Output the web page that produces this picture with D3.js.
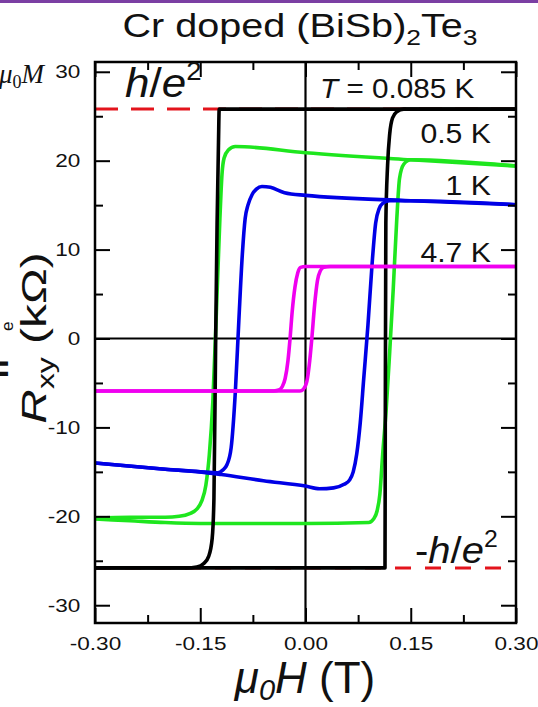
<!DOCTYPE html>
<html>
<head>
<meta charset="utf-8">
<script src="https://cdn.jsdelivr.net/npm/d3@7"></script>
<style>
  body { margin: 0; background: #fff; }
  svg { display: block; font-family: Arial, "Liberation Sans", sans-serif; }
</style>
</head>
<body>
<svg id="chart" width="538" height="707"></svg>
<script>
// axis ticks
const fieldTicks = [-0.30, -0.15, 0.00, 0.15, 0.30];
const fieldMinor = [-0.225, -0.075, 0.075, 0.225];
const rTicks = [-30, -20, -10, 0, 10, 20, 30];
const rMinor = [-25, -15, -5, 5, 15, 25];
const hOverE2 = 25.81; // kOhm

// hysteresis loops, [mu0H (T), Rxy (kOhm)], each branch sorted by field
// T = 0.085 K
const down085 = [[-0.30,-25.8],[-0.20,-25.8],[-0.17,-25.8],[-0.155,-25.7],[-0.145,-25.3],[-0.138,-24.5],[-0.133,-22.5],[-0.1305,-18],[-0.128,0],[-0.126,13],[-0.124,22],[-0.123,25.8],[0.30,25.8]];
const up085 = [[-0.30,-25.8],[0.1133,-25.8],[0.1137,-10],[0.1145,13],[0.117,19.5],[0.12,23],[0.124,24.8],[0.13,25.5],[0.14,25.8],[0.30,25.8]];
// T = 0.5 K
const down05 = [[-0.30,-20.2],[-0.25,-20.1],[-0.20,-20.1],[-0.18,-20.0],[-0.165,-19.7],[-0.155,-19.2],[-0.148,-18.3],[-0.142,-16.5],[-0.137,-13],[-0.132,-7],[-0.127,3],[-0.122,13.5],[-0.119,18.5],[-0.116,20.3],[-0.11,21.2],[-0.10,21.6],[0.00,20.9],[0.15,20.1],[0.30,19.4]];
const up05 = [[-0.30,-20.3],[-0.25,-20.5],[-0.20,-20.7],[-0.15,-20.8],[0.00,-20.8],[0.09,-20.7],[0.097,-20.3],[0.102,-19.4],[0.106,-17.5],[0.11,-13],[0.115,-8],[0.12,-1.5],[0.125,5.5],[0.13,13.3],[0.134,18],[0.14,19.6],[0.15,20.1],[0.30,19.4]];
// T = 1 K
const down1 = [[-0.30,-14.0],[-0.20,-14.7],[-0.15,-15.0],[-0.125,-15.1],[-0.118,-14.8],[-0.112,-14.2],[-0.106,-12.3],[-0.10,-6],[-0.095,2],[-0.09,9.5],[-0.086,13.5],[-0.082,15.0],[-0.076,16.2],[-0.07,16.8],[-0.062,17.1],[-0.05,17.0],[-0.03,16.4],[0.00,16.1],[0.15,15.5],[0.30,15.05]];
const up1 = [[-0.30,-14.0],[-0.20,-14.7],[-0.15,-15.0],[-0.12,-15.3],[-0.06,-16.0],[0.00,-16.6],[0.02,-16.9],[0.04,-16.8],[0.055,-16.4],[0.063,-15.9],[0.068,-15.0],[0.073,-13.0],[0.078,-9.5],[0.083,-4.5],[0.089,1.5],[0.095,8.5],[0.10,13],[0.105,14.6],[0.11,15.2],[0.12,15.5],[0.15,15.5],[0.30,15.05]];
// T = 4.7 K
const down47 = [[-0.30,-5.9],[-0.045,-5.9],[-0.038,-5.8],[-0.033,-5.4],[-0.029,-4.5],[-0.025,-2.5],[-0.022,0],[-0.019,3],[-0.015,5.8],[-0.011,7.4],[-0.007,8.0],[0.00,8.1],[0.30,8.1]];
const up47 = [[-0.30,-5.9],[-0.008,-5.9],[-0.003,-5.7],[0.002,-4.8],[0.006,-2.5],[0.009,0],[0.013,3.8],[0.017,6.5],[0.021,7.6],[0.026,8.0],[0.035,8.1],[0.30,8.1]];

const tempLabels = ["0.5 K", "1 K", "4.7 K"];

const svg = d3.select("#chart");
const W = 538, H = 707;
const plot = { left: 95, right: 516, top: 62, bottom: 623 };

const x = d3.scaleLinear().domain([-0.30, 0.30]).range([plot.left, plot.right]);
const y = d3.scaleLinear().domain([-32, 31.1]).range([plot.bottom, plot.top]);

// purple strip at the top of the slide
svg.append("rect").attr("x", 0).attr("y", 0).attr("width", W).attr("height", 3).attr("fill", "#7b3fa3");

// text helper: horizontal stretch like the original raster
function label(x0, y0, sx, anchor) {
  return svg.append("g")
    .attr("transform", `translate(${x0},${y0}) scale(${sx},1)`)
    .append("text")
    .attr("text-anchor", anchor || "start");
}

// title
const title = label(300, 37, 1.2, "middle").attr("font-size", 33).attr("fill", "#111");
title.append("tspan").text("Cr doped (BiSb)");
title.append("tspan").attr("font-size", 22).attr("dy", 8).text("2");
title.append("tspan").attr("dy", -8).text("Te");
title.append("tspan").attr("font-size", 22).attr("dy", 8).text("3");

// zero lines
svg.append("line").attr("x1", x(0)).attr("x2", x(0)).attr("y1", plot.top).attr("y2", plot.bottom)
  .attr("stroke", "#000").attr("stroke-width", 2.2);
svg.append("line").attr("x1", plot.left).attr("x2", plot.right).attr("y1", y(0)).attr("y2", y(0))
  .attr("stroke", "#000").attr("stroke-width", 2.2);

// quantized resistance lines
[hOverE2, -hOverE2].forEach((v, i) => {
  svg.append("line")
    .attr("x1", plot.left).attr("x2", plot.right)
    .attr("y1", y(v)).attr("y2", y(v))
    .attr("stroke", "#e3141c").attr("stroke-width", 3)
    .attr("stroke-dasharray", i === 0 ? "23,13" : "16,14");
});

// loops
const line = d3.line().x(d => x(d[0])).y(d => y(d[1])).curve(d3.curveMonotoneX);
const loops = [
  { color: "#1ee61e", branches: [down05, up05] },
  { color: "#000000", branches: [down085, up085] },
  { color: "#0000e6", branches: [down1, up1] },
  { color: "#f000f0", branches: [down47, up47] }
];
loops.forEach(l => {
  l.branches.forEach(b => {
    svg.append("path").attr("d", line(b)).attr("fill", "none")
      .attr("stroke", l.color).attr("stroke-width", 3.6)
      .attr("stroke-linejoin", "round");
  });
});

// axes with inward ticks
function axis(gen, tx, ty, vals, size, fmt, pad) {
  const g = svg.append("g").attr("transform", `translate(${tx},${ty})`)
    .call(gen.tickValues(vals).tickSize(-size).tickSizeOuter(0).tickPadding(pad || 3).tickFormat(fmt));
  g.select(".domain").remove();
  g.selectAll(".tick line").attr("stroke", "#000").attr("stroke-width", 2);
  return g;
}
const hyphen = f => v => f(v).replace("−", "-");
const gx = axis(d3.axisBottom(x), 0, plot.bottom, fieldTicks, 15, hyphen(d3.format(".2f")), 14);
axis(d3.axisBottom(x), 0, plot.bottom, fieldMinor, 8, () => "");
axis(d3.axisTop(x), 0, plot.top, fieldTicks, 15, () => "");
axis(d3.axisTop(x), 0, plot.top, fieldMinor, 8, () => "");
const gy = axis(d3.axisLeft(y), plot.left, 0, rTicks, 15, hyphen(d3.format("d")), 12);
axis(d3.axisLeft(y), plot.left, 0, rMinor, 8, () => "");
axis(d3.axisRight(y), plot.right, 0, rTicks, 15, () => "");
axis(d3.axisRight(y), plot.right, 0, rMinor, 8, () => "");

[gx, gy].forEach(g => g.selectAll(".tick text")
  .attr("font-family", "Arial, 'Liberation Sans', sans-serif")
  .attr("font-size", 18.5).attr("fill", "#111")
  .attr("transform", "scale(1.22,1)"));

// frame
svg.append("rect").attr("x", plot.left).attr("y", plot.top)
  .attr("width", plot.right - plot.left).attr("height", plot.bottom - plot.top)
  .attr("fill", "none").attr("stroke", "#000").attr("stroke-width", 2.5);

// annotations
const he = label(125, 97, 1.1).attr("font-size", 40).attr("fill", "#111");
he.append("tspan").attr("font-style", "italic").text("h");
he.append("tspan").text("/");
he.append("tspan").attr("font-style", "italic").text("e");
he.append("tspan").attr("font-size", 25).attr("dy", -17).text("2");

const mhe = label(415, 563, 1.08).attr("font-size", 37).attr("fill", "#111");
mhe.append("tspan").text("-");
mhe.append("tspan").attr("font-style", "italic").text("h");
mhe.append("tspan").text("/");
mhe.append("tspan").attr("font-style", "italic").text("e");
mhe.append("tspan").attr("font-size", 23).attr("dy", -16).text("2");

const tl = label(320, 98, 1.1).attr("font-size", 27).attr("fill", "#111");
tl.append("tspan").attr("font-style", "italic").text("T");
tl.append("tspan").text(" = 0.085 K");

[143, 195, 262].forEach((by, i) => {
  label(491, by, 1.12, "end").attr("font-size", 27).attr("fill", "#111").text(tempLabels[i]);
});

// axis titles
const xl = label(305, 693, 1.0, "middle").attr("font-size", 44).attr("fill", "#111");
xl.append("tspan").attr("font-style", "italic").text("μ");
xl.append("tspan").attr("font-style", "italic").attr("font-size", 29).attr("dy", 7).text("0");
xl.append("tspan").attr("font-style", "italic").attr("dy", -7).text("H");
xl.append("tspan").text(" (T)");

const yl = svg.append("text").attr("transform", `translate(46,338) rotate(-90) scale(1.33,1)`)
  .attr("text-anchor", "middle").attr("font-size", 36).attr("fill", "#111");
yl.append("tspan").attr("font-style", "italic").text("R");
yl.append("tspan").attr("font-size", 24).attr("dy", 8).text("xy");
yl.append("tspan").attr("dy", -8).text(" (kΩ)");

// cut-off labels of the neighbouring panel
const mu = svg.append("text").attr("x", 44).attr("y", 83).attr("text-anchor", "end")
  .attr("font-family", "'Liberation Serif', serif").attr("font-size", 27).attr("fill", "#111");
mu.append("tspan").attr("font-style", "italic").text("μ");
mu.append("tspan").attr("font-size", 18).attr("dy", 5).text("0");
mu.append("tspan").attr("font-style", "italic").attr("dy", -5).text("M");
svg.append("text").attr("transform", "translate(8,378) rotate(-90)")
  .attr("font-size", 30).attr("font-weight", "bold").attr("fill", "#111").text("n");
svg.append("text").attr("transform", "translate(13,331) rotate(-90)")
  .attr("font-size", 17).attr("fill", "#111").text("e");
</script>
</body>
</html>
